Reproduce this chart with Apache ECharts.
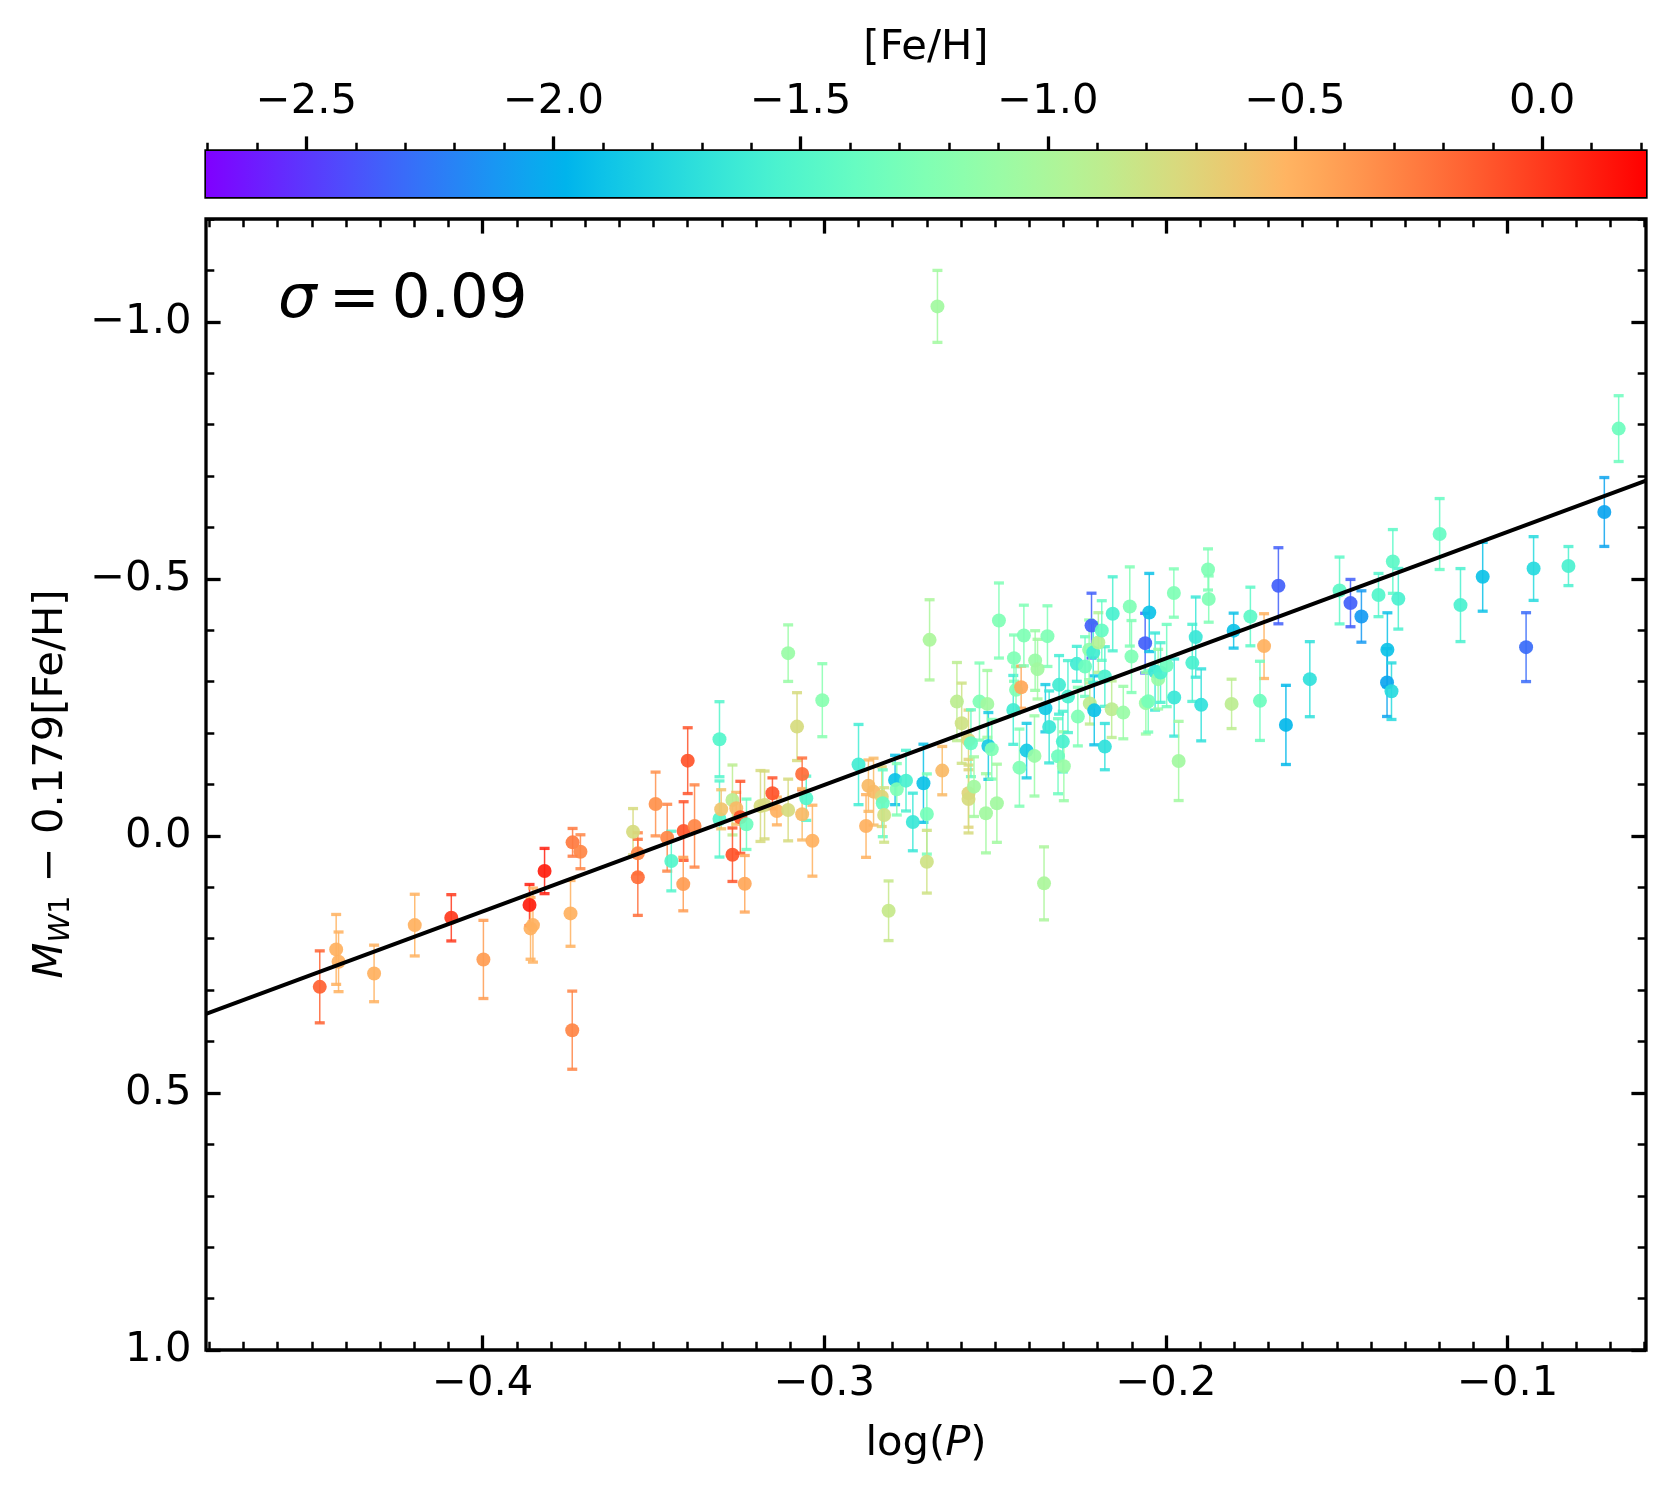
<!DOCTYPE html>
<html><head><meta charset="utf-8">
<script src="https://cdn.jsdelivr.net/npm/echarts@6/dist/echarts.min.js"></script>
<style>html,body{margin:0;padding:0;background:#fff}#c{width:1676px;height:1500px}</style>
</head><body><div id="c"></div>
<script>
// ---- data ----
const logP = [
-0.4477,-0.4429,-0.4422,-0.4318,-0.4199,-0.4092,-0.3998,-0.3863,-0.3860,-0.3853,-0.3819,-0.3743,-0.3738,-0.3737,-0.3714,
-0.3560,-0.3546,-0.3546,-0.3494,-0.3460,-0.3448,-0.3412,-0.3413,-0.3400,-0.3380,-0.3307,-0.3307,-0.3302,-0.3269,-0.3269,
-0.3258,-0.3246,-0.3233,-0.3228,-0.3187,-0.3175,-0.3152,-0.3139,-0.3106,-0.3080,-0.3065,-0.3065,-0.3053,-0.3035,
-0.3106,-0.3006,-0.2900,
-0.2692,-0.2871,-0.2856,-0.2832,-0.2829,-0.2825,-0.2878,-0.2793,-0.2788,-0.2761,-0.2741,-0.2710,-0.2700,-0.2700,-0.2812,
-0.2655,-0.2612,-0.2598,-0.2578,-0.2571,-0.2578,-0.2578,-0.2562,-0.2546,-0.2523,-0.2527,-0.2520,-0.2510,-0.2495,-0.2489,
-0.2445,-0.2447,-0.2439,-0.2424,-0.2416,-0.2429,-0.2408,-0.2385,-0.2383,-0.2376,-0.2353,-0.2347,-0.2342,-0.2357,-0.2313,
-0.2316,-0.2302,-0.2299,-0.2287,-0.2261,-0.2258,-0.2237,-0.2218,-0.2223,-0.2210,-0.2179,-0.2159,
-0.2225,-0.2213,-0.2198,-0.2188,-0.2179,-0.2156,-0.2125,-0.2106,-0.2101,-0.2061,-0.2049,-0.2059,-0.2052,-0.2032,-0.2023,
-0.2016,-0.1998,-0.1977,-0.1976,-0.1963,-0.1923,-0.1913,-0.1897,-0.1877,-0.1875,-0.1808,-0.1802,
-0.1753,-0.1713,-0.1671,-0.1725,-0.1649,-0.1579,-0.1492,-0.1460,-0.1428,-0.1378,-0.1336,-0.1320,-0.1352,-0.1353,-0.1340,
-0.1199,-0.1138,-0.1073,-0.0946,-0.0924,-0.0822,-0.0717,-0.0675,-0.2669
];
const magW1 = [
0.2936,0.2208,0.2449,0.2675,0.1735,0.1593,0.2403,0.1345,0.1799,0.1735,0.0683,0.1507,0.3779,0.0125,0.0308,
-0.0082,0.0339,0.0806,-0.0621,0.0035,0.0489,-0.0095,0.0937,-0.1464,-0.0193,-0.1881,-0.0329,-0.0518,-0.0699,0.0366,
-0.0537,-0.0362,0.0931,-0.0226,-0.0582,-0.0602,-0.0829,-0.0485,-0.0504,-0.2126,-0.1205,-0.0421,-0.0732,0.0093,
-0.3555,-0.2640,-0.1388,
-0.3814,-0.0977,-0.0861,-0.0763,-0.0635,-0.0407,-0.0193,-0.1088,-0.0907,-0.1075,-0.0271,-0.1024,-0.0426,0.0502,0.1456,
-0.1270,-0.2613,-0.2192,-0.1867,-0.1803,-0.0829,-0.0718,-0.0958,-0.2613,-0.2568,-0.0440,-0.1750,-0.1686,-0.0635,-0.4190,
-0.3458,-0.2451,-0.2841,-0.2893,-0.3898,-0.1328,-0.1659,-0.1556,-0.3411,-0.3244,-0.2484,-0.3886,-0.2120,0.0923,-0.2938,
-0.1550,-0.1834,-0.1355,-0.2710,-0.3347,-0.2321,-0.3294,-0.4091,-0.2576,-0.2442,-0.1737,-0.2465,
-0.3620,-0.3567,-0.3762,-0.3995,-0.3100,-0.4320,-0.2399,-0.4463,-0.3489,-0.3750,-0.4346,-0.2582,-0.2620,-0.3197,-0.3049,
-0.3178,-0.3314,-0.4724,-0.2691,-0.1458,-0.3366,-0.3867,-0.2549,-0.5183,-0.4607,-0.2568,-0.3993,
-0.4268,-0.3692,-0.4866,-0.2627,-0.2159,-0.3049,-0.4774,-0.4529,-0.4268,-0.4685,-0.5339,-0.4613,-0.3620,-0.2983,-0.2815,
-0.5872,-0.4490,-0.5041,-0.3672,-0.5201,-0.5249,-0.6301,-0.7923,-1.0300
];
const magErr = [
0.070,0.068,0.058,0.055,0.060,0.045,0.076,0.040,0.060,0.072,0.044,0.064,0.076,0.027,0.033,
0.045,0.040,0.074,0.062,0.065,0.058,0.057,0.052,0.064,0.080,0.073,0.074,0.038,0.068,0.052,
0.031,0.070,0.055,0.049,0.069,0.066,0.030,0.027,0.060,0.066,0.031,0.050,0.043,0.069,
0.055,0.071,0.078,
0.078,0.050,0.065,0.058,0.065,0.053,0.061,0.048,0.050,0.059,0.056,0.076,0.078,0.061,0.058,
0.047,0.076,0.078,0.058,0.065,0.066,0.066,0.058,0.075,0.065,0.077,0.065,0.058,0.076,0.073,
0.045,0.067,0.045,0.041,0.059,0.075,0.053,0.078,0.058,0.058,0.046,0.059,0.070,0.071,0.057,
0.073,0.059,0.067,0.070,0.034,0.057,0.058,0.063,0.040,0.067,0.045,0.055,
0.058,0.058,0.058,0.058,0.058,0.072,0.051,0.077,0.070,0.058,0.076,0.060,0.060,0.075,0.058,
0.058,0.080,0.047,0.075,0.077,0.075,0.078,0.070,0.040,0.045,0.048,0.034,
0.057,0.063,0.074,0.077,0.077,0.073,0.065,0.046,0.050,0.042,0.062,0.059,0.072,0.066,0.055,
0.069,0.071,0.067,0.067,0.062,0.038,0.067,0.064,0.070
];
const feh = [
-0.15,-0.5,-0.5,-0.5,-0.5,0.0,-0.4,0.1,-0.5,-0.5,0.1,-0.5,-0.3,-0.25,-0.3,
-0.75,-0.3,-0.2,-0.35,-0.3,-1.5,-0.1,-0.4,-0.1,-0.3,-1.5,-1.5,-0.6,-0.9,-0.1,
-0.55,-0.1,-0.45,-1.35,-0.75,-0.75,-0.1,-0.5,-0.75,-0.75,-0.2,-0.55,-1.5,-0.5,
-1.1,-1.2,-1.6,
-1.0,-0.55,-0.55,-0.7,-1.4,-0.8,-0.5,-1.9,-1.25,-1.55,-1.65,-1.9,-1.3,-0.8,-0.85,
-0.55,-0.9,-0.8,-0.7,-1.4,-0.7,-0.75,-1.05,-1.25,-1.05,-1.05,-1.85,-1.25,-1.05,-1.25,
-1.25,-1.6,-1.25,-0.45,-1.25,-1.25,-1.85,-1.1,-1.1,-1.05,-1.85,-1.25,-1.65,-1.0,-1.6,
-1.35,-1.55,-1.1,-1.55,-1.6,-1.25,-1.35,-2.35,-0.9,-1.9,-1.7,-0.9,
-1.15,-1.6,-0.95,-1.4,-1.55,-1.55,-1.1,-1.25,-1.25,-2.35,-1.9,-1.1,-1.3,-1.65,-1.1,
-1.55,-1.35,-1.25,-1.65,-1.05,-1.55,-1.65,-1.7,-1.25,-1.25,-0.9,-1.9,
-1.45,-0.5,-2.35,-1.35,-1.95,-1.7,-1.45,-2.35,-2.1,-1.5,-1.45,-1.55,-1.9,-2.05,-1.75,
-1.4,-1.55,-1.9,-2.3,-1.75,-1.55,-2.05,-1.35,-1.05
];
// fitted relation, end points
const fitLogP = [-0.481, -0.0595];
const fitMag  = [0.346, -0.691];
// tick labels
const xTicks = [-0.4, -0.3, -0.2, -0.1];
const yTicks = [-1.0, -0.5, 0.0, 0.5, 1.0];
const cbTicks = [-2.5, -2.0, -1.5, -1.0, -0.5, 0.0];

const X_MIN = -0.481, X_MAX = -0.0595, Y_MIN = -1.2, Y_MAX = 1.0;
const CB_MIN = -2.703, CB_MAX = 0.21;

const xMinor = [], yMinor = [], cbMinor = [];
for (let k = -48; k <= -6; k++) if (k % 10 !== 0) xMinor.push(k / 100);
for (let k = -12; k <= 10; k++) if (k % 5 !== 0) yMinor.push(k / 10);
for (let k = -27; k <= 2; k++) if (k % 5 !== 0) cbMinor.push(k / 10);

function rainbow(t) {
  t = Math.max(0, Math.min(1, t));
  const r = Math.min(1, Math.abs(2 * t - 0.5));
  const g = Math.sin(Math.PI * t);
  const b = Math.cos(Math.PI * t / 2);
  return 'rgb(' + Math.round(r * 255) + ',' + Math.round(g * 255) + ',' + Math.round(b * 255) + ')';
}
function fehColor(v) { return rainbow((v - CB_MIN) / (CB_MAX - CB_MIN)); }
function fmt(v) { return (v < 0 ? '\u2212' : '') + Math.abs(v).toFixed(1); }

const FONT = 'DejaVu Sans';
const FS = 41.7;
const MAJ_LEN = 14.6, MIN_LEN = 8.3, MAJ_W = 3.3, MIN_W = 2.5;

function axis(grid, pos, min, max, ticks, major, inside, labels, extra) {
  const a = {
    type: 'value', gridIndex: grid, position: pos, min: min, max: max,
    axisLine: { show: false, onZero: false }, splitLine: { show: false },
    axisTick: { show: true, inside: inside, length: major ? MAJ_LEN : MIN_LEN,
      customValues: ticks, lineStyle: { color: '#000', width: major ? MAJ_W : MIN_W } },
    axisLabel: labels ? { show: true, customValues: ticks, formatter: fmt, color: '#000',
      fontFamily: FONT, fontSize: FS, margin: labels } : { show: false }
  };
  return Object.assign(a, extra || {});
}

const pts = logP.map((x, i) => [x, magW1[i], magErr[i], feh[i]]);

const stops = [];
for (let i = 0; i <= 40; i++) stops.push({ offset: i / 40, color: rainbow(i / 40) });

const chart = echarts.init(document.getElementById('c'), null, { renderer: 'canvas' });
chart.setOption({
  animation: false,
  backgroundColor: '#fff',
  grid: [
    { left: 206, right: 30, top: 219, bottom: 150, show: true, borderColor: '#000', borderWidth: 3.3, backgroundColor: 'transparent' },
    { left: 206, right: 30, top: 151, height: 46, show: true, borderColor: '#000', borderWidth: 3.3, backgroundColor: 'transparent' }
  ],
  xAxis: [
    axis(0, 'bottom', X_MIN, X_MAX, xTicks, true, true, 13),
    axis(0, 'bottom', X_MIN, X_MAX, xMinor, false, true, 0),
    axis(0, 'top', X_MIN, X_MAX, xTicks, true, true, 0),
    axis(0, 'top', X_MIN, X_MAX, xMinor, false, true, 0),
    axis(1, 'top', CB_MIN, CB_MAX, cbTicks, true, false, 28),
    axis(1, 'top', CB_MIN, CB_MAX, cbMinor, false, false, 0)
  ],
  yAxis: [
    axis(0, 'left', Y_MIN, Y_MAX, yTicks, true, true, 14.6, { inverse: true }),
    axis(0, 'left', Y_MIN, Y_MAX, yMinor, false, true, 0, { inverse: true }),
    axis(0, 'right', Y_MIN, Y_MAX, yTicks, true, true, 0, { inverse: true }),
    axis(0, 'right', Y_MIN, Y_MAX, yMinor, false, true, 0, { inverse: true }),
    { type: 'value', gridIndex: 1, min: 0, max: 1, show: false }
  ],
  series: [
    {
      type: 'custom', xAxisIndex: 4, yAxisIndex: 4, data: [[CB_MIN, CB_MAX]], z: 1, silent: true,
      renderItem: function (params, api) {
        const p0 = api.coord([api.value(0), 0]);
        const p1 = api.coord([api.value(1), 1]);
        return { type: 'rect', shape: { x: p0[0], y: p1[1], width: p1[0] - p0[0], height: p0[1] - p1[1] },
          style: { fill: new echarts.graphic.LinearGradient(0, 0, 1, 0, stops) } };
      }
    },
    {
      type: 'custom', xAxisIndex: 0, yAxisIndex: 0, data: pts, z: 2, silent: true,
      renderItem: function (params, api) {
        const x = api.value(0), y = api.value(1), e = api.value(2), f = api.value(3);
        const a = api.coord([x, y - e]), b = api.coord([x, y + e]);
        const c = fehColor(f), hw = 5;
        const st = (w) => ({ stroke: c, lineWidth: w, opacity: 0.85 });
        return { type: 'group', children: [
          { type: 'line', shape: { x1: a[0], y1: a[1], x2: b[0], y2: b[1] }, style: st(1.5) },
          { type: 'line', shape: { x1: a[0] - hw, y1: a[1], x2: a[0] + hw, y2: a[1] }, style: st(3.3) },
          { type: 'line', shape: { x1: b[0] - hw, y1: b[1], x2: b[0] + hw, y2: b[1] }, style: st(3.3) }
        ] };
      }
    },
    {
      type: 'scatter', xAxisIndex: 0, yAxisIndex: 0, data: pts, z: 3, symbol: 'circle', symbolSize: 14,
      itemStyle: { color: function (p) { return fehColor(p.data[3]); }, opacity: 0.92 }
    },
    {
      type: 'line', xAxisIndex: 0, yAxisIndex: 0, z: 4, symbol: 'none',
      data: fitLogP.map((x, i) => [x, fitMag[i]]),
      lineStyle: { color: '#000', width: 4 }
    }
  ],
  graphic: [
    { type: 'text', x: 278, y: 301, z: 10, style: {
      text: '{s|\u03c3}{g|}={g|}0.09', fill: '#000', fontFamily: FONT, fontSize: 61, verticalAlign: 'middle', align: 'left',
      rich: { s: { fontStyle: 'italic', fontFamily: FONT, fontSize: 61 }, g: { width: 12 } } } },
    { type: 'text', x: 926, y: 48, style: {
      text: '[Fe/H]', fill: '#000', fontFamily: FONT, fontSize: FS, align: 'center', verticalAlign: 'middle' } },
    { type: 'text', x: 926, y: 1444, style: {
      text: 'log({i|P})', fill: '#000', fontFamily: FONT, fontSize: FS, align: 'center', verticalAlign: 'middle',
      rich: { i: { fontStyle: 'italic', fontFamily: FONT, fontSize: FS } } } },
    { type: 'text', x: 51, y: 784, rotation: Math.PI / 2, style: {
      text: '{i|M}{w|W}{d|1}{n| \u2212 0.179[Fe/H]}', fill: '#000', align: 'center', verticalAlign: 'middle',
      rich: {
        i: { fontStyle: 'italic', fontFamily: FONT, fontSize: FS, lineHeight: 50 },
        w: { fontStyle: 'italic', fontFamily: FONT, fontSize: 29, lineHeight: 22, verticalAlign: 'bottom' },
        d: { fontFamily: FONT, fontSize: 29, lineHeight: 22, verticalAlign: 'bottom' },
        n: { fontFamily: FONT, fontSize: FS, lineHeight: 50 }
      } } }
  ]
});
</script>
</body></html>
